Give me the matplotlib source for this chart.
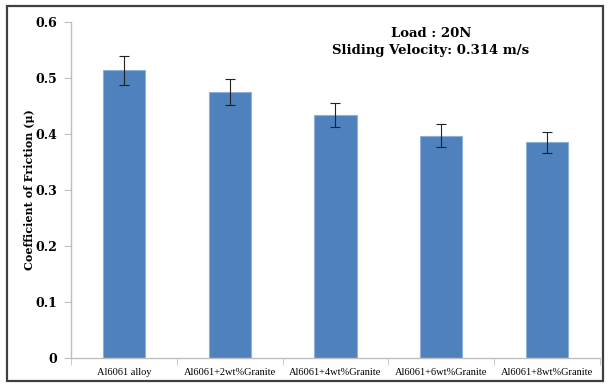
import matplotlib.pyplot as plt
from matplotlib.patches import Rectangle
from matplotlib.ticker import FixedLocator

# composites and measured friction coefficient
samples = ["Al6061 alloy", "Al6061+2wt%Granite", "Al6061+4wt%Granite",
           "Al6061+6wt%Granite", "Al6061+8wt%Granite"]
cof = [0.514, 0.475, 0.434, 0.397, 0.385]
cof_err = [0.026, 0.024, 0.022, 0.020, 0.019]
yticks = [0, 0.1, 0.2, 0.3, 0.4, 0.5, 0.6]
ytick_labels = ["0", "0.1", "0.2", "0.3", "0.4", "0.5", "0.6"]

fig = plt.figure(figsize=(6.08, 3.86), dpi=100)
ax = fig.add_axes([0.1168, 0.0725, 0.870, 0.8705])

x = range(len(samples))
ax.bar(x, cof, width=0.4, color="#4F81BD", edgecolor="#8FB0DA", linewidth=0.8,
       yerr=cof_err, capsize=3.5,
       error_kw=dict(ecolor="#222222", elinewidth=0.8, capthick=0.8))

ax.set_xlim(-0.5, len(samples) - 0.5)
ax.set_ylim(0, 0.6)
ax.set_yticks(yticks)
ax.set_yticklabels(ytick_labels, family="DejaVu Serif", fontweight="bold", fontsize=9)
ax.set_xticks(list(x))
ax.set_xticklabels(samples, family="Liberation Serif", fontsize=7.5)
ax.xaxis.set_minor_locator(FixedLocator([i - 0.5 for i in range(len(samples) + 1)]))
ax.tick_params(axis="x", which="major", length=0, pad=7)
ax.tick_params(axis="x", which="minor", length=5, color="#BFBFBF")
ax.tick_params(axis="y", length=5, color="#BFBFBF", pad=5)

for side in ["top", "right"]:
    ax.spines[side].set_visible(False)
for side in ["left", "bottom"]:
    ax.spines[side].set_color("#BFBFBF")
    ax.spines[side].set_linewidth(1.0)

ax.set_ylabel("Coefficient of Friction (\u03bc)", family="DejaVu Serif",
              fontweight="bold", fontsize=8)
ax.yaxis.set_label_coords(-0.068, 0.5)

ax.text(0.68, 0.94, "Load : 20N\nSliding Velocity: 0.314 m/s", transform=ax.transAxes,
        ha="center", va="center", family="DejaVu Serif", fontweight="bold",
        fontsize=9.5, linespacing=1.35)

# outer border around the chart
fig.patches.append(Rectangle((0.011, 0.013), 0.981, 0.971, transform=fig.transFigure,
                             fill=False, edgecolor="#404040", linewidth=1.6))

fig.savefig("out.png", dpi=100)
